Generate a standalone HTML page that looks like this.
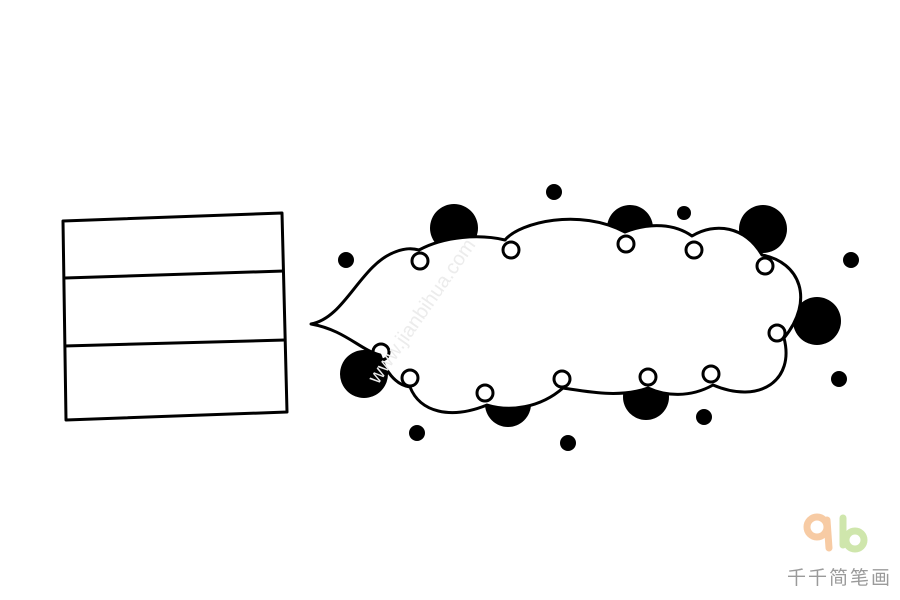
<!DOCTYPE html>
<html><head><meta charset="utf-8"><style>
html,body{margin:0;padding:0;background:#fff;width:900px;height:600px;overflow:hidden}
</style></head><body>
<svg width="900" height="600" viewBox="0 0 900 600" xmlns="http://www.w3.org/2000/svg">
<rect width="900" height="600" fill="#fff"/>
<g fill="none" stroke="#000" stroke-width="3" stroke-linejoin="round">
<path d="M63,221 L282,213 L287,412 L66,420 Z"/>
<path d="M65,278 L284,271"/>
<path d="M64,346 L285,340"/>
</g>
<g fill="#000">
<circle cx="454" cy="228" r="24"/>
<circle cx="630" cy="228" r="23"/>
<circle cx="763" cy="229" r="24"/>
<circle cx="817" cy="321" r="24"/>
<circle cx="364" cy="374" r="24"/>
<circle cx="508" cy="404" r="23"/>
<circle cx="646" cy="397" r="23"/>
<circle cx="554" cy="192" r="8"/>
<circle cx="684" cy="213" r="7"/>
<circle cx="346" cy="260" r="8"/>
<circle cx="851" cy="260" r="8"/>
<circle cx="839" cy="379" r="8"/>
<circle cx="704" cy="417" r="8"/>
<circle cx="417" cy="433" r="8"/>
<circle cx="568" cy="443" r="8"/>
</g>
<path fill="#fff" stroke="#000" stroke-width="3" stroke-linejoin="round" d="M311,324 C345,318 360,265 395,252 C405,248 412,248 419,250 C445,236 480,234 505,240 C520,222 580,208 625,232 C650,222 675,224 692,236 C715,222 745,226 762,255 C800,262 815,300 784,338 C795,380 760,405 713,385 C690,398 665,396 648,388 C620,398 590,392 563,388 C540,408 510,412 487,405 C450,420 420,412 410,387 C395,385 385,370 380,355 C360,350 345,330 311,324 Z"/>
<g fill="none" stroke="#000" stroke-width="3">
<circle cx="420" cy="261" r="8"/>
<circle cx="511" cy="250" r="8"/>
<circle cx="626" cy="244" r="8"/>
<circle cx="694" cy="250" r="8"/>
<circle cx="765" cy="266" r="8"/>
<circle cx="777" cy="333" r="8"/>
<circle cx="711" cy="374" r="8"/>
<circle cx="648" cy="377" r="8"/>
<circle cx="562" cy="379" r="8"/>
<circle cx="485" cy="393" r="8"/>
<circle cx="410" cy="378" r="8"/>
<circle cx="381" cy="352" r="8"/>
</g>
<text x="0" y="0" transform="translate(378,385) rotate(-55)" font-family="Liberation Sans, sans-serif" font-size="20" fill="#ececec">www.jianbihua.com</text>
<g opacity="0.55">
<circle cx="817" cy="527" r="10" fill="none" stroke="#f2a15a" stroke-width="7"/>
<path d="M827,520 L829,548" stroke="#f2a15a" stroke-width="7" stroke-linecap="round"/>
<circle cx="855" cy="540" r="9" fill="none" stroke="#a8d36a" stroke-width="7"/>
<path d="M843,518 L843,545" stroke="#a8d36a" stroke-width="7" stroke-linecap="round"/>
</g>
<text x="787" y="584" font-family="Liberation Sans, 'Noto Sans CJK SC', sans-serif" font-size="19" fill="#9a9a9a" letter-spacing="2">千千简笔画</text>
</svg>
</body></html>
